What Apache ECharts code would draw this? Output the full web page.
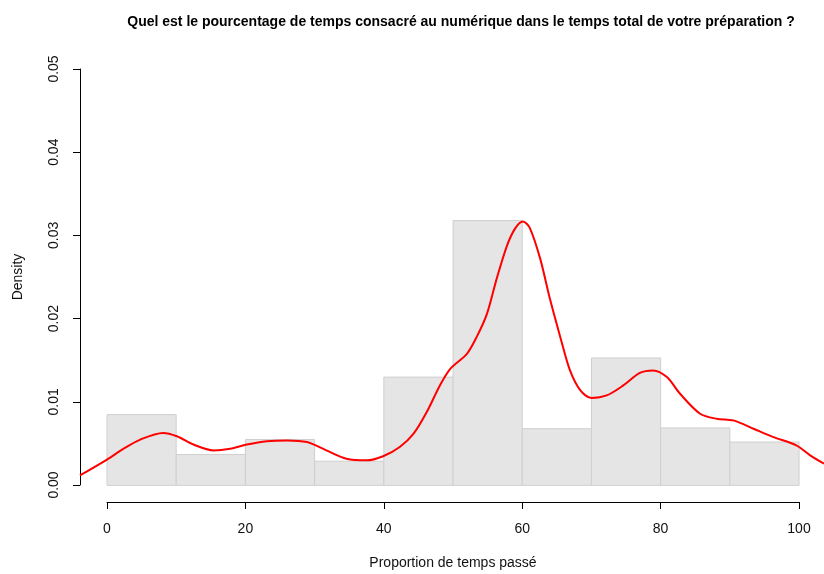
<!DOCTYPE html>
<html>
<head>
<meta charset="utf-8">
<script src="https://cdn.jsdelivr.net/npm/echarts@6/dist/echarts.min.js"></script>
<style>
    html, body { margin: 0; padding: 0; background: #fff; }
    #hist_echarts { width: 824px; height: 574px; }
</style>
</head>
<body>
<div id="hist_echarts"></div>
<script>
// histogram bins (density per bin of width 10)
let binStart = [0, 10, 20, 30, 40, 50, 60, 70, 80, 90]
let binEnd = [10, 20, 30, 40, 50, 60, 70, 80, 90, 100]
let binDensity = [0.0085, 0.0037, 0.0055, 0.0029, 0.0130, 0.0318, 0.0068, 0.0153, 0.0069, 0.0052]

// kernel density curve
let curveX = [-3.9, 0, 2.4, 4.8, 8.1, 10.1, 12.5, 15.4, 17.8, 20.2, 23.1, 26.0, 28.9, 31.7, 34.6, 37.5, 39.9, 42.3, 44.3, 46.2, 48.1, 49.6, 52.0, 53.4, 54.9, 56.3, 57.8, 59.0, 60.1, 61.1, 62.6, 64.0, 65.5, 66.9, 68.4, 70.0, 72.2, 74.6, 77.0, 78.9, 80.9, 82.8, 85.7, 88.1, 90.5, 93.4, 96.3, 99.6, 101.6, 103.6]
let curveY = [0.0012, 0.0031, 0.0044, 0.0055, 0.0063, 0.0059, 0.0049, 0.0042, 0.0044, 0.0049, 0.0053, 0.0054, 0.0052, 0.0042, 0.0032, 0.0030, 0.0035, 0.0046, 0.0062, 0.0088, 0.0120, 0.0140, 0.0158, 0.0178, 0.0206, 0.0248, 0.0288, 0.0309, 0.0317, 0.0309, 0.0272, 0.0224, 0.0178, 0.0138, 0.0114, 0.0105, 0.0108, 0.0120, 0.0135, 0.0138, 0.0130, 0.0110, 0.0086, 0.0080, 0.0078, 0.0068, 0.0058, 0.0048, 0.0036, 0.0026]

// axis ticks
let xTicks = [0, 20, 40, 60, 80, 100]
let yTicks = [0, 0.01, 0.02, 0.03, 0.04, 0.05]

window.onload = function() {
    let chartDom = document.getElementById('hist_echarts')
    let myChart = echarts.init(chartDom)

    let bars = []
    for (let i = 0; i < binStart.length; i++) {
        bars.push([binStart[i], binEnd[i], binDensity[i]])
    }
    let curve = []
    for (let i = 0; i < curveX.length; i++) {
        curve.push([curveX[i], curveY[i]])
    }

    let font = 'Liberation Sans, Arial, sans-serif'

    let option = {
        animation: false,
        title: {
            text: 'Quel est le pourcentage de temps consacré au numérique dans le temps total de votre préparation ?',
            left: 456,
            textAlign: 'center',
            top: 10,
            textStyle: {
                color: '#000',
                fontFamily: font,
                fontWeight: 'bold',
                fontSize: 14
            }
        },
        grid: [
            // plot region (R extends axes by 4%)
            { left: 80, right: 0, top: 52.4, bottom: 72 },
            // y axis line 0 .. 0.05
            { left: 80, width: 1, top: 69, bottom: 89 },
            // x axis line 0 .. 100
            { left: 107, right: 25, top: 502, bottom: 72 }
        ],
        xAxis: [{
            gridIndex: 0,
            type: 'value',
            min: -3.9,
            max: 103.6,
            show: false
        }, {
            gridIndex: 1,
            type: 'value',
            show: false
        }, {
            gridIndex: 2,
            type: 'value',
            min: 0,
            max: 100,
            interval: 20,
            splitLine: { show: false },
            axisLine: { show: true, onZero: false, lineStyle: { color: '#000', width: 1 } },
            axisTick: { show: true, length: 7, lineStyle: { color: '#000' }, customValues: xTicks },
            axisLabel: { color: '#111', fontFamily: font, fontSize: 14, margin: 20, customValues: xTicks },
            name: 'Proportion de temps passé',
            nameLocation: 'middle',
            nameGap: 54,
            nameTextStyle: { color: '#111', fontFamily: font, fontSize: 14 }
        }],
        yAxis: [{
            gridIndex: 0,
            type: 'value',
            min: -0.002,
            max: 0.052,
            show: false
        }, {
            gridIndex: 1,
            type: 'value',
            min: 0,
            max: 0.05,
            interval: 0.01,
            splitLine: { show: false },
            axisLine: { show: true, lineStyle: { color: '#000', width: 1 } },
            axisTick: { show: true, length: 7, lineStyle: { color: '#000' }, customValues: yTicks },
            axisLabel: {
                color: '#111',
                fontFamily: font,
                fontSize: 14,
                rotate: 90,
                margin: 19,
                customValues: yTicks,
                formatter: function(v) { return v.toFixed(2) }
            },
            name: 'Density',
            nameLocation: 'middle',
            nameGap: 55,
            nameRotate: 90,
            nameTextStyle: { color: '#111', fontFamily: font, fontSize: 14 }
        }, {
            gridIndex: 2,
            type: 'value',
            show: false
        }],
        series: [{
            // histogram
            type: 'custom',
            xAxisIndex: 0,
            yAxisIndex: 0,
            data: bars,
            renderItem: function(params, api) {
                let p0 = api.coord([api.value(0), api.value(2)])
                let p1 = api.coord([api.value(1), 0])
                return {
                    type: 'rect',
                    shape: { x: p0[0], y: p0[1], width: p1[0] - p0[0], height: p1[1] - p0[1] },
                    style: { fill: '#e5e5e5', stroke: '#cfcfcf', lineWidth: 1 }
                }
            }
        }, {
            // density curve
            type: 'line',
            xAxisIndex: 0,
            yAxisIndex: 0,
            data: curve,
            smooth: 0.3,
            showSymbol: false,
            symbol: 'none',
            lineStyle: { color: '#ff0000', width: 2 }
        }]
    }

    option && myChart.setOption(option)
}
</script>
</body>
</html>
